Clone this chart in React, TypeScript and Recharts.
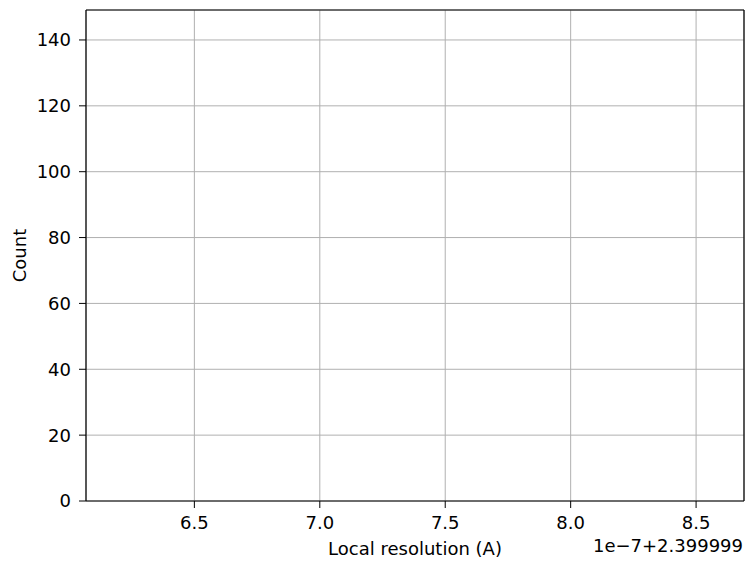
import React from "react";
import { ComposedChart, Bar, XAxis, YAxis, CartesianGrid, Label } from "recharts";

// Histogram values (offset by 2.399999, in units of 1e-7) — the reference histogram is empty
const binCenters: number[] = [];
const counts: number[] = [];

const xTicks = [6.5, 7.0, 7.5, 8.0, 8.5];
const yTicks = [0, 20, 40, 60, 80, 100, 120, 140];
const xDomain: [number, number] = [6.068, 8.691];
const yDomain: [number, number] = [0, 149.1];

const xLabel = "Local resolution (A)";
const yLabel = "Count";
const offsetText = "1e\u22127+2.399999";

const data = binCenters.map((x, i) => ({ x, count: counts[i] }));

const FONT = "'DejaVu Sans', sans-serif";
const FS = 18;

export default function App() {
  return (
    <div style={{ position: "absolute", left: 0, top: 0, width: 746, height: 561, background: "#fff" }}>
      <ComposedChart
        width={746}
        height={561}
        data={data}
        margin={{ top: 10, right: 2, bottom: 0, left: 0 }}
        style={{ fontFamily: FONT }}
      >
        <CartesianGrid stroke="#b0b0b0" strokeWidth={1} horizontal vertical />
        <XAxis
          dataKey="x"
          type="number"
          domain={xDomain}
          ticks={xTicks}
          allowDataOverflow
          height={60}
          tickSize={7}
          tickMargin={8}
          stroke="#000"
          axisLine={{ stroke: "#000", strokeWidth: 1.2 }}
          tickLine={{ stroke: "#000", strokeWidth: 1 }}
          tick={{ fill: "#000", fontSize: FS, fontFamily: FONT }}
          tickFormatter={(v: number) => v.toFixed(1)}
        >
          <Label
            content={(props: any) => {
              const vb = props.viewBox;
              return (
                <text
                  x={vb.x + vb.width / 2}
                  y={vb.y + 54}
                  textAnchor="middle"
                  fontSize={FS}
                  fontFamily={FONT}
                  fill="#000"
                >
                  {xLabel}
                </text>
              );
            }}
          />
          <Label
            content={(props: any) => {
              const vb = props.viewBox;
              return (
                <text
                  x={vb.x + vb.width - 1}
                  y={vb.y + 51}
                  textAnchor="end"
                  fontSize={FS}
                  fontFamily={FONT}
                  fill="#000"
                >
                  {offsetText}
                </text>
              );
            }}
          />
        </XAxis>
        <YAxis
          type="number"
          domain={yDomain}
          ticks={yTicks}
          allowDataOverflow
          width={86}
          tickSize={7}
          tickMargin={8}
          axisLine={{ stroke: "#000", strokeWidth: 1.2 }}
          tickLine={{ stroke: "#000", strokeWidth: 1 }}
          tick={{ fill: "#000", fontSize: FS, fontFamily: FONT }}
        >
          <Label
            content={(props: any) => {
              const vb = props.viewBox;
              const cx = 26;
              const cy = vb.y + vb.height / 2;
              return (
                <text
                  x={cx}
                  y={cy}
                  textAnchor="middle"
                  fontSize={FS}
                  fontFamily={FONT}
                  fill="#000"
                  transform={`rotate(-90 ${cx} ${cy})`}
                >
                  {yLabel}
                </text>
              );
            }}
          />
        </YAxis>
        <Bar dataKey="count" fill="#1f77b4" isAnimationActive={false} />
      </ComposedChart>
      <svg style={{ position: "absolute", left: 0, top: 0, pointerEvents: "none" }} width={746} height={561}>
        <line x1={86} y1={10} x2={744} y2={10} stroke="#000" strokeWidth={1.2} />
        <line x1={744} y1={10} x2={744} y2={501} stroke="#000" strokeWidth={1.2} />
      </svg>
    </div>
  );
}
